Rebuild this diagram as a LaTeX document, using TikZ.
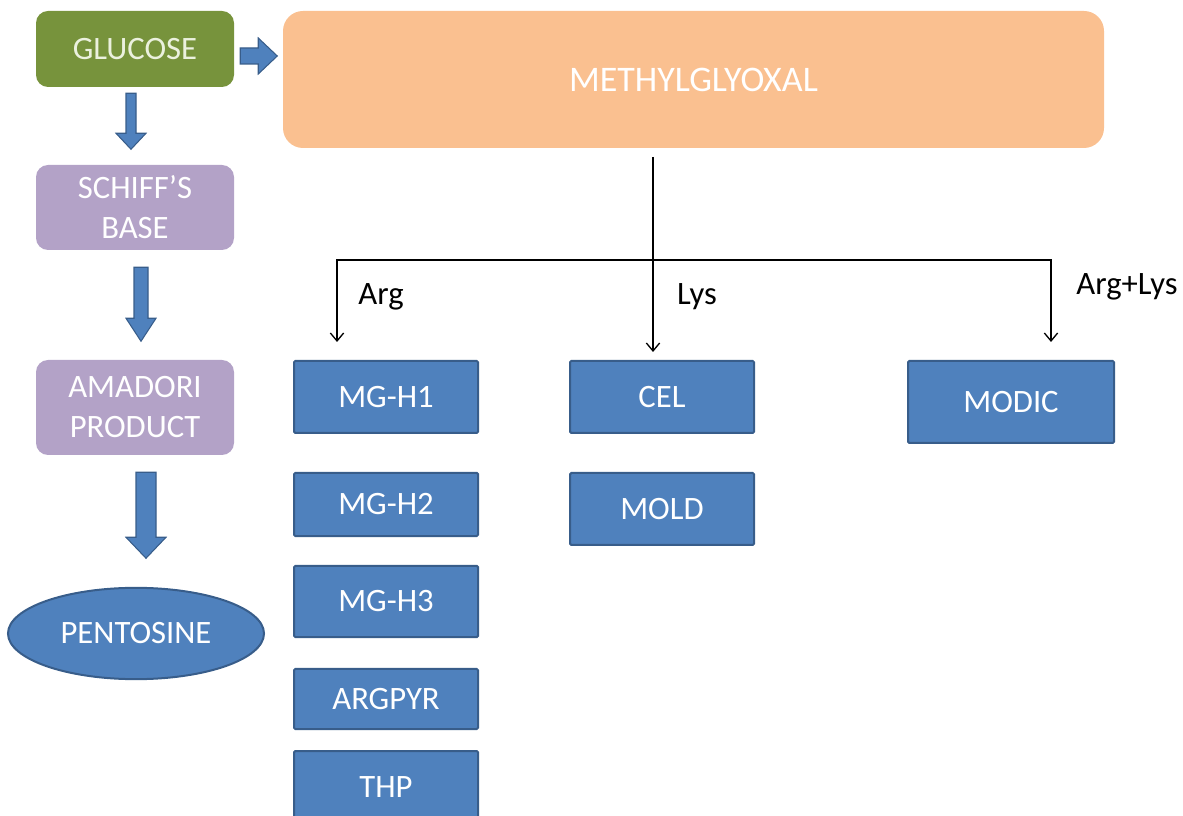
\documentclass[tikz,border=0pt]{standalone}
\usepackage{fontspec}
\setmainfont{Carlito}
\usetikzlibrary{arrows.meta,shapes.geometric,calc}

\definecolor{glucgreen}{HTML}{77933C}
\definecolor{gluctext}{HTML}{EBF1DE}
\definecolor{mgorange}{HTML}{FAC090}
\definecolor{amdpurple}{HTML}{B3A2C7}
\definecolor{ageblue}{HTML}{4F81BD}
\definecolor{ageedge}{HTML}{385D8A}

\begin{document}
\begin{tikzpicture}[x=0.75pt,y=-0.75pt,
  every node/.style={font=\fontsize{24.5}{30}\selectfont},
  softbox/.style={rounded corners=9pt, inner sep=0pt, align=center, text=white, minimum width=148.5pt},
  agebox/.style={fill=ageblue, draw=ageedge, line width=1.5pt, rounded corners=1pt, inner sep=0pt, text=white, minimum width=138pt},
  fatarrow/.style={fill=ageblue, draw=ageedge, line width=0.8pt},
  thinarrow/.style={line width=1pt, -{Straight Barb[length=6pt,width=10pt]}},
  lbl/.style={text=black}]
\useasboundingbox (0,0) rectangle (1183,816);

% left column
\node[softbox, fill=glucgreen, text=gluctext, minimum height=57pt] (glucose) at (135,49) {GLUCOSE};
\node[softbox, fill=amdpurple, minimum height=63.75pt] (schiff) at (135,207.5) {SCHIFF’S\\BASE};
\node[softbox, fill=amdpurple, minimum height=71.25pt] (amadori) at (135,407.5) {AMADORI\\PRODUCT};
\node[ellipse, fill=ageblue, draw=ageedge, line width=1.5pt, text=white, inner sep=0pt,
      minimum width=192pt, minimum height=68.5pt] (pentosine) at (136,633.5) {PENTOSINE};

% methylglyoxal
\node[rounded corners=15pt, fill=mgorange, text=white, inner sep=0pt, font=\fontsize{27}{32}\selectfont,
      minimum width=615.75pt, minimum height=102.75pt] (methyl) at (693.5,79.5) {METHYLGLYOXAL};

% products
\node[agebox, minimum height=54pt] (mgh1) at (386,397) {MG-H1};
\node[agebox, minimum height=47.5pt] (mgh2) at (386,504.5) {MG-H2};
\node[agebox, minimum height=53.5pt] (mgh3) at (386,601.5) {MG-H3};
\node[agebox, minimum height=45pt] (argpyr) at (386,699) {ARGPYR};
\node[agebox, minimum height=54pt] (thp) at (386,787) {THP};
\node[agebox, minimum height=54pt] (cel) at (662,397) {CEL};
\node[agebox, minimum height=54pt] (mold) at (662,509) {MOLD};
\node[agebox, minimum width=154.5pt, minimum height=61.5pt] (modic) at (1011,402) {MODIC};

% block arrows
\draw[fatarrow] ($(glucose.south)+(-9,6)$) -- ++(10,0) -- ++(0,40) -- ++(10,0) -- ++(-15,16) -- ++(-15,-16) -- ++(10,0) -- cycle;
\draw[fatarrow] ($(schiff.south)+(-1,17)$) -- ++(14,0) -- ++(0,51) -- ++(8,0) -- ++(-15,23) -- ++(-15,-23) -- ++(8,0) -- cycle;
\draw[fatarrow] ($(amadori.south)+(1,17)$) -- ++(20,0) -- ++(0,65) -- ++(10,0) -- ++(-20,21) -- ++(-20,-21) -- ++(10,0) -- cycle;
\draw[fatarrow] ($(glucose.east)+(6,-1)$) -- ++(18,0) -- ++(0,-10) -- ++(19,18) -- ++(-19,18) -- ++(0,-10) -- ++(-18,0) -- cycle;

% branching connectors
\coordinate (split) at (653,157);
\coordinate (junc) at (653,260);
\coordinate (argtip) at (337,342);
\coordinate (modtip) at (1051,342);
\draw[thinarrow] (split) -- ($(split |- cel.north)+(0,-8)$);
\draw[thinarrow] (junc) -| (argtip);
\draw[thinarrow] (junc) -| (modtip);
\node[lbl] (arglbl) at (381,297) {Arg};
\node[lbl] (lyslbl) at (697,297) {Lys};
\node[lbl] (bothlbl) at (1127,287) {Arg+Lys};
\end{tikzpicture}
\end{document}
